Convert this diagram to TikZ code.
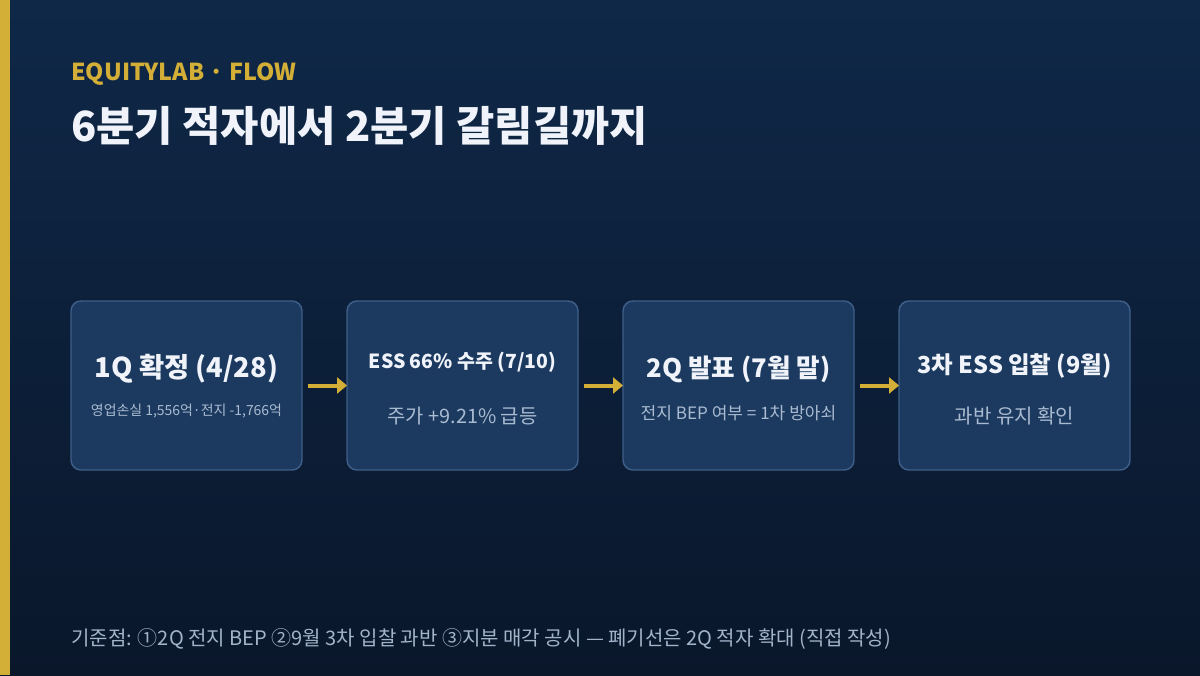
\documentclass[tikz,border=0pt]{standalone}
\usepackage{fontspec}
\setmainfont{Noto Sans CJK KR}
\usetikzlibrary{positioning,arrows.meta}
\definecolor{bgtop}{HTML}{0F2848}
\definecolor{bgbot}{HTML}{0A172B}
\definecolor{gold}{HTML}{D4AF37}
\definecolor{boxfill}{HTML}{1C3A5F}
\definecolor{boxline}{HTML}{3D5E88}
\definecolor{headtxt}{HTML}{F0F4FA}
\definecolor{subtxt}{HTML}{A9BBD1}
\definecolor{foottxt}{HTML}{A3B3C9}
\begin{document}
\begin{tikzpicture}[x=0.75pt,y=-0.75pt,line join=round,line cap=butt]
	\tikzset{stagebox/.style={draw=boxline,line width=1.1pt,fill=boxfill,rounded corners=7.5pt,minimum width=173.25pt,minimum height=126.75pt,inner sep=0pt,outer sep=0pt},
		stagehead/.style={text=headtxt,font=\bfseries},
		stagesub/.style={text=subtxt},
		flowarrow/.style={draw=gold,line width=3pt,-{Triangle[length=7.5pt,width=12pt]}}}
	% background
	\shade[top color=bgtop,bottom color=bgbot] (0,0) rectangle (1200,675);
	\fill[gold] (0,0) rectangle (10,675);
	% heading
	\node[anchor=base west,inner sep=0pt,text=gold,font=\fontsize{17.5}{20}\selectfont\bfseries] (brand) at (71,80) {EQUITYLAB · FLOW};
	\node[anchor=base west,inner sep=0pt,text=headtxt,font=\fontsize{31.2}{36}\selectfont\bfseries] (title) at (71,141) {6분기 적자에서 2분기 갈림길까지};
	% stages
	\node[stagebox] (q1) at (186.5,385.5) {};
	\node[stagebox,right=33.75pt of q1] (ess) {};
	\node[stagebox,right=33.75pt of ess] (q2) {};
	\node[stagebox,right=33.75pt of q2] (bid) {};
	\node[stagehead,font=\fontsize{20.5}{24}\selectfont\bfseries,yshift=12.4pt] (q1t) at (q1.center) {1Q 확정 (4/28)};
	\node[stagesub,font=\fontsize{10.45}{12}\selectfont,yshift=-19pt] (q1s) at (q1.center) {영업손실 1,556억·전지 -1,766억};
	\node[stagehead,font=\fontsize{14.6}{18}\selectfont\bfseries,yshift=17.6pt] (esst) at (ess.center) {ESS 66\% 수주 (7/10)};
	\node[stagesub,font=\fontsize{14.9}{18}\selectfont,yshift=-22.9pt] (esss) at (ess.center) {주가 +9.21\% 급등};
	\node[stagehead,font=\fontsize{19.2}{24}\selectfont\bfseries,yshift=12.4pt] (q2t) at (q2.center) {2Q 발표 (7월 말)};
	\node[stagesub,font=\fontsize{12.8}{15}\selectfont,yshift=-20.6pt] (q2s) at (q2.center) {전지 BEP 여부 = 1차 방아쇠};
	\node[stagehead,font=\fontsize{17.6}{22}\selectfont\bfseries,yshift=14.6pt] (bidt) at (bid.center) {3차 ESS 입찰 (9월)};
	\node[stagesub,font=\fontsize{15}{18}\selectfont,yshift=-22.9pt] (bids) at (bid.center) {과반 유지 확인};
	% arrows
	\draw[flowarrow] ([xshift=4.5pt]q1.east) -- (ess.west);
	\draw[flowarrow] ([xshift=4.5pt]ess.east) -- (q2.west);
	\draw[flowarrow] ([xshift=4.5pt]q2.east) -- (bid.west);
	% footnote
	\node[anchor=base west,inner sep=0pt,text=foottxt,font=\fontsize{15}{18}\selectfont] (note) at (71,645) {기준점: ①2Q 전지 BEP ②9월 3차 입찰 과반 ③지분 매각 공시 — 폐기선은 2Q 적자 확대 (직접 작성)};
\end{tikzpicture}
\end{document}
